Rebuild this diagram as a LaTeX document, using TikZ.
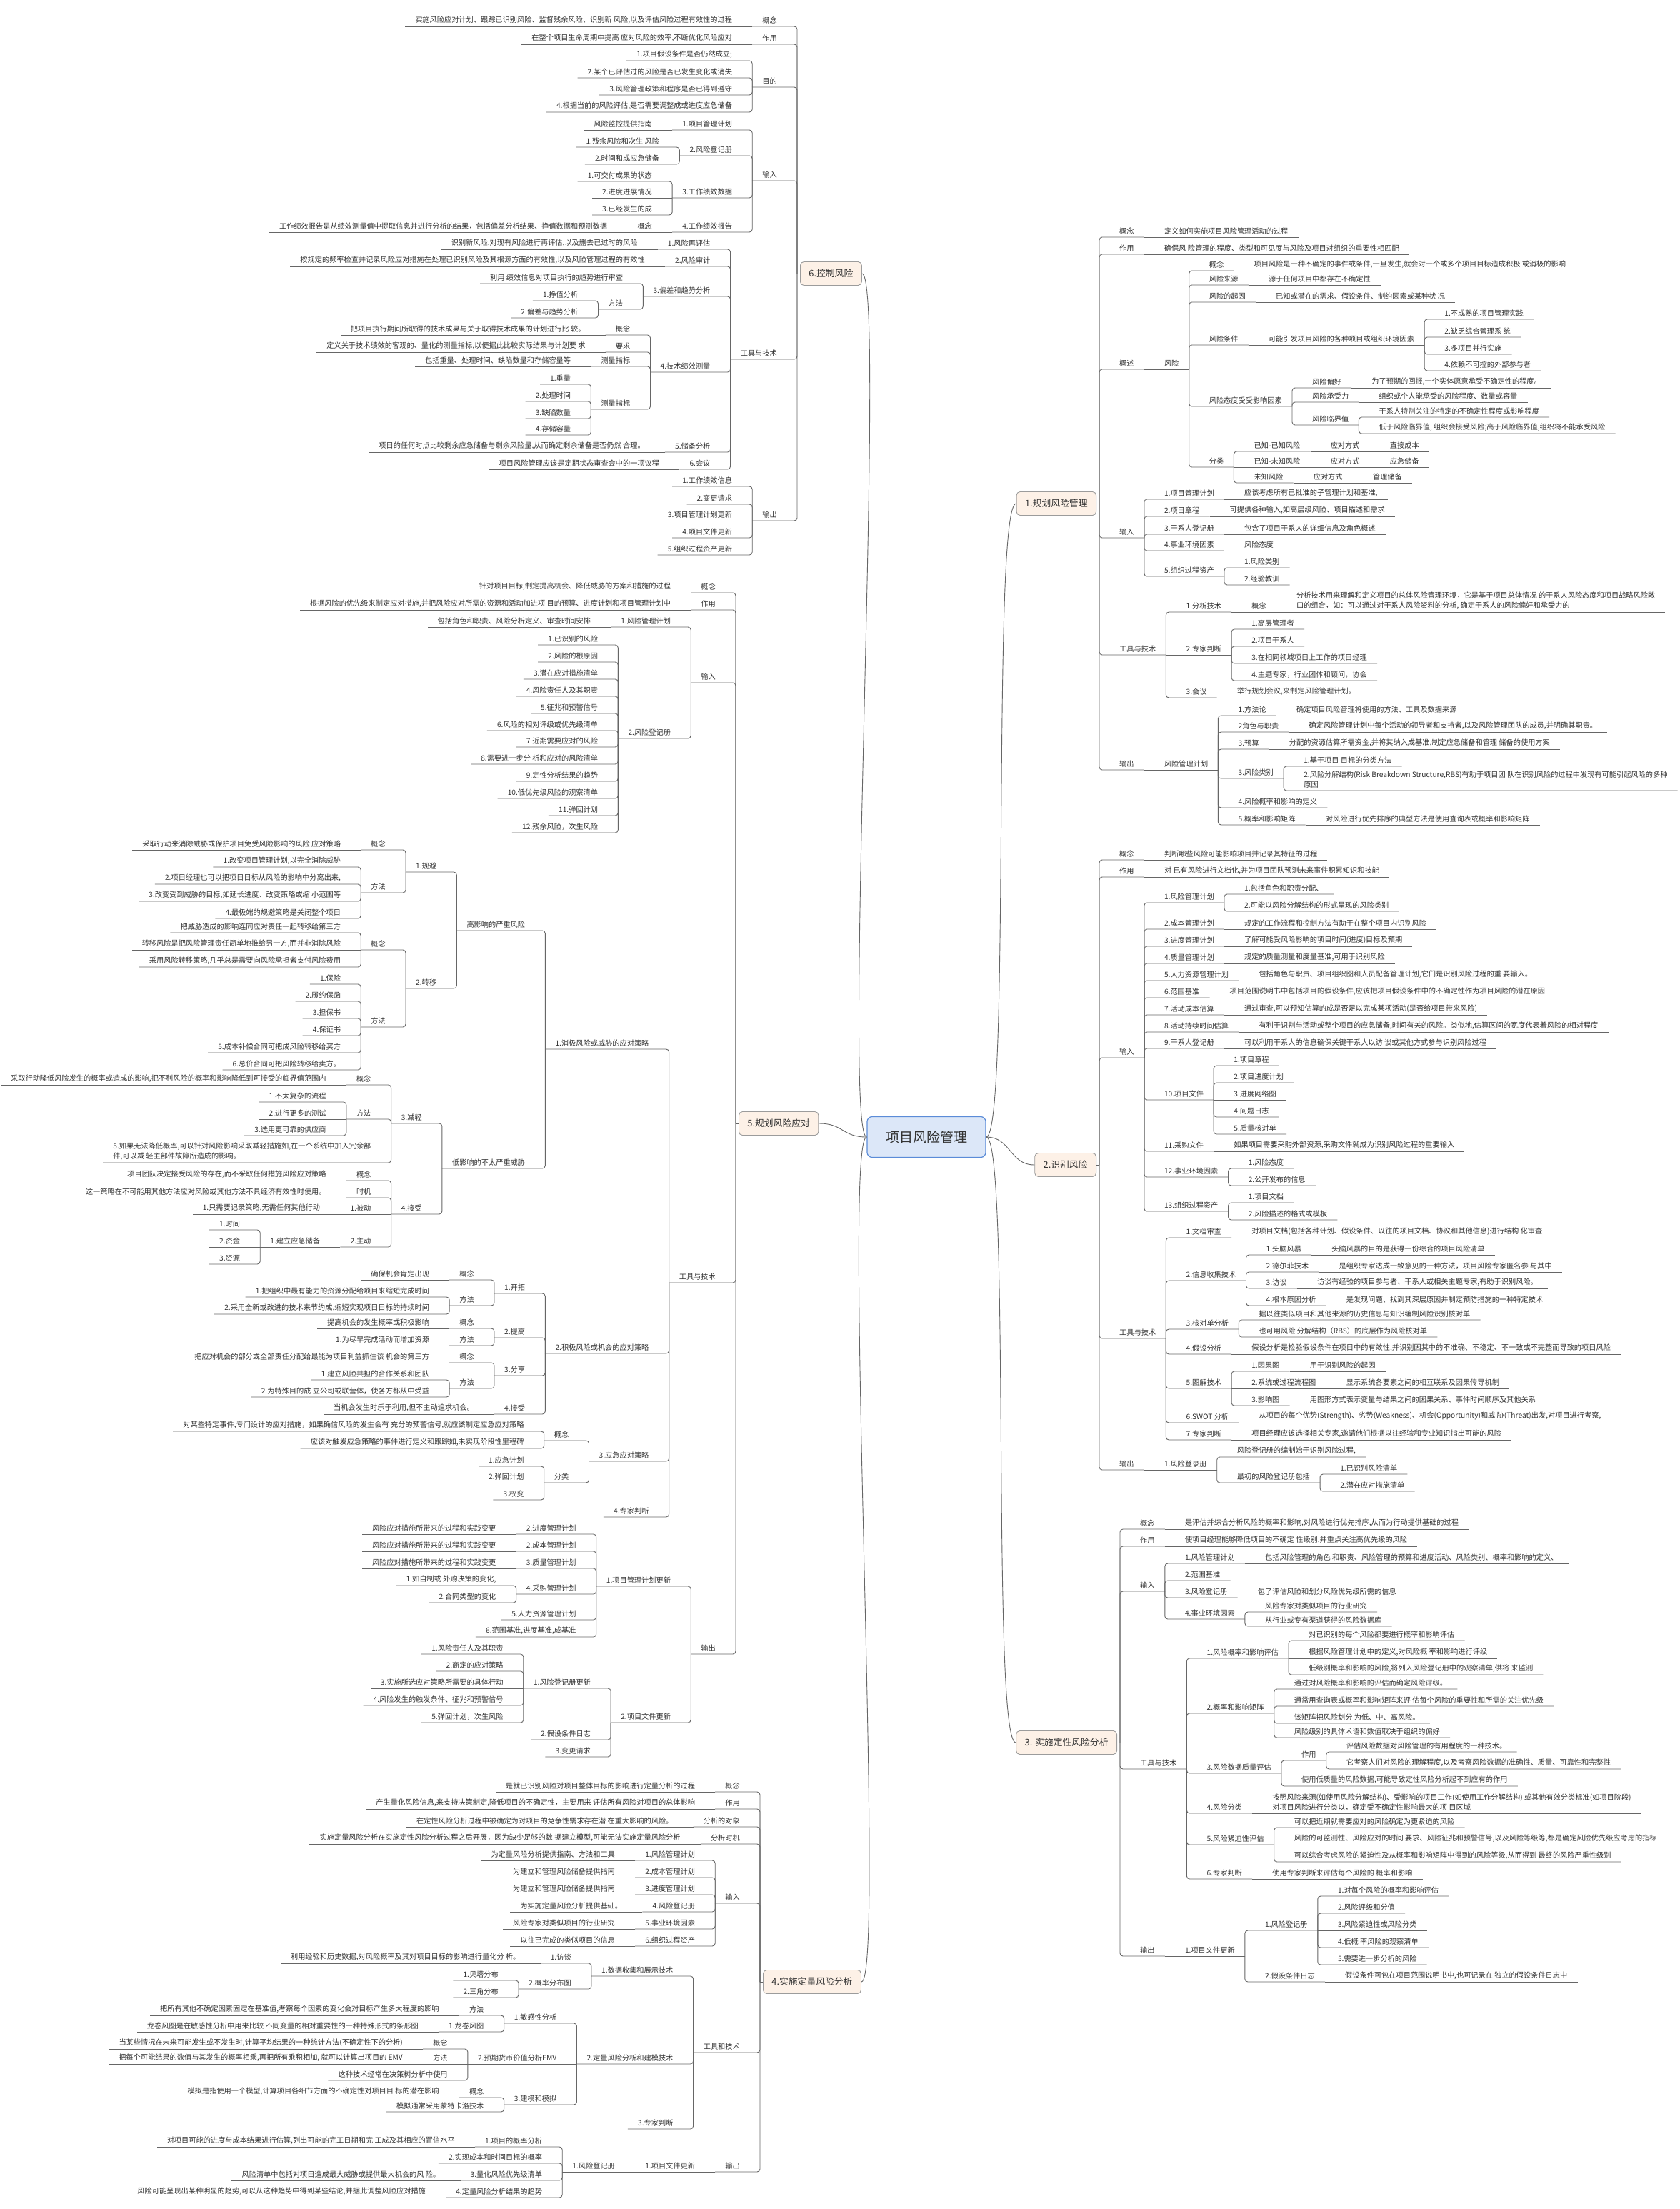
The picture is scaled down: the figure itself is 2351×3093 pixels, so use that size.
\documentclass[tikz,border=0pt]{standalone}
\usepackage{fontspec}
\setmainfont{Noto Sans CJK SC}
\usetikzlibrary{calc}
\definecolor{lnc}{HTML}{666666}
\definecolor{txt}{HTML}{333333}
\definecolor{boxfill}{HTML}{FDF1E7}
\definecolor{boxdraw}{HTML}{9C9C9C}
\definecolor{cfill}{HTML}{DCE7F8}
\definecolor{cdraw}{HTML}{5B8CD8}
\tikzset{
 ln/.style={draw=lnc, line width=0.9pt, rounded corners=4pt},
 rt/.style={anchor=south west, inner xsep=0pt, inner ysep=3.5pt, text=txt, font=\fontsize{10.2}{13.7}\selectfont, align=left},
 lt/.style={anchor=south east, inner xsep=0pt, inner ysep=3.5pt, text=txt, font=\fontsize{10.2}{13.7}\selectfont, align=left},
 mbox/.style={draw=boxdraw, fill=boxfill, rounded corners=5pt, line width=0.9pt, inner xsep=12pt, inner ysep=0pt, minimum height=33pt, font=\fontsize{12.8}{15}\selectfont, text=txt},
 cbox/.style={draw=cdraw, fill=cfill, rounded corners=7pt, line width=1.2pt, inner xsep=26pt, inner ysep=0pt, minimum height=57pt, font=\fontsize{19}{22}\selectfont, text=txt}
}
\newcommand\rchild[4]{%
  \node[rt] (#2) at ($(#1-e |- 0,#3)+(28,0)$) {#4};
  \coordinate (#2-e) at ($(#2.south east)+(14,0)$);
  \draw[ln] (#1-e) |- (#2-e);}
\newcommand\rstr[3]{%
  \node[rt] (#2) at ($(#1-e)+(28,0)$) {#3};
  \coordinate (#2-e) at ($(#2.south east)+(14,0)$);
  \draw[ln] (#1-e) -- (#2-e);}
\newcommand\lchild[4]{%
  \node[lt] (#2) at ($(#1-e |- 0,#3)+(-28,0)$) {#4};
  \coordinate (#2-e) at ($(#2.south west)+(-14,0)$);
  \draw[ln] (#1-e) |- (#2-e);}
\newcommand\lstr[3]{%
  \node[lt] (#2) at ($(#1-e)+(-28,0)$) {#3};
  \coordinate (#2-e) at ($(#2.south west)+(-14,0)$);
  \draw[ln] (#1-e) -- (#2-e);}
\begin{document}
\begin{tikzpicture}[x=1pt,y=-1pt]
\useasboundingbox (0,0) rectangle (2351,3093);
\fill[white] (0,0) rectangle (2351,3093);

% ---------- center and main boxes
\node[cbox] (root) at (1297,1592) {项目风险管理};
\node[mbox,anchor=east] (b1) at (1535,705) {1.规划风险管理};
\node[mbox,anchor=east] (b2) at (1535,1631) {2.识别风险};
\node[mbox,anchor=east] (b3) at (1564,2440) {3. 实施定性风险分析};
\node[mbox,anchor=west] (b6) at (1120,383) {6.控制风险};
\node[mbox,anchor=west] (b5) at (1034,1573) {5.规划风险应对};
\node[mbox,anchor=west] (b4) at (1068,2775) {4.实施定量风险分析};
\foreach \b in {b1,b2,b3}{\coordinate (\b-e) at ($(\b.east)+(4,0)$); \draw[ln] (\b.east) -- (\b-e);}
\foreach \b in {b4,b5,b6}{\coordinate (\b-e) at ($(\b.west)+(-4,0)$); \draw[ln] (\b.west) -- (\b-e);}
\draw[ln] (root.east) .. controls +(35,0) and +(-35,0) .. (b1.west);
\draw[ln] (root.east) .. controls +(35,0) and +(-35,0) .. (b2.west);
\draw[ln] (root.east) .. controls +(35,0) and +(-35,0) .. (b3.west);
\draw[ln] (root.west) .. controls +(-35,0) and +(35,0) .. (b6.east);
\draw[ln] (root.west) .. controls +(-35,0) and +(35,0) .. (b5.east);
\draw[ln] (root.west) .. controls +(-35,0) and +(35,0) .. (b4.east);

% ---------- 6 控制风险
\lchild{b6}{f1}{37}{概念}
\lstr{f1}{f1a}{实施风险应对计划、跟踪已识别风险、监督残余风险、识别新 风险,以及评估风险过程有效性的过程}
\lchild{b6}{f2}{62}{作用}
\lstr{f2}{f2a}{在整个项目生命周期中提高 应对风险的效率,不断优化风险应对}
\lchild{b6}{f3}{122}{目的}
\lchild{f3}{f3a}{85}{1.项目假设条件是否仍然成立;}
\lchild{f3}{f3b}{109}{2.某个已评估过的风险是否已发生变化或消失}
\lchild{f3}{f3c}{133}{3.风险管理政策和程序是否已得到遵守}
\lchild{f3}{f3d}{157}{4.根据当前的风险评估,是否需要调整成或进度应急储备}
\lchild{b6}{f4}{253}{输入}
\lchild{f4}{f4a}{182}{1.项目管理计划}
\lstr{f4a}{f4a1}{风险监控提供指南}
\lchild{f4}{f4b}{218}{2.风险登记册}
\lchild{f4b}{f4b1}{206}{1.残余风险和次生 风险}
\lchild{f4b}{f4b2}{230}{2.时间和成应急储备}
\lchild{f4}{f4c}{277}{3.工作绩效数据}
\lchild{f4c}{f4c1}{254}{1.可交付成果的状态}
\lstr{f4c}{f4c2}{2.进度进展情况}
\lchild{f4c}{f4c3}{301}{3.已经发生的成}
\lchild{f4}{f4d}{325}{4.工作绩效报告}
\lstr{f4d}{f4d1}{概念}
\lstr{f4d1}{f4d2}{工作绩效报告是从绩效测量值中提取信息并进行分析的结果，包括偏差分析结果、挣值数据和预测数据}
\lchild{b6}{f5}{503}{工具与技术}
\lchild{f5}{f5a}{349}{1.风险再评估}
\lstr{f5a}{f5a1}{识别新风险,对现有风险进行再评估,以及删去已过时的风险}
\lchild{f5}{f5b}{373}{2.风险审计}
\lstr{f5b}{f5b1}{按规定的频率检查并记录风险应对措施在处理已识别风险及其根源方面的有效性,以及风险管理过程的有效性}
\lchild{f5}{f5c}{415}{3.偏差和趋势分析}
\lchild{f5c}{f5c1}{397}{利用 绩效信息对项目执行的趋势进行审查}
\lchild{f5c}{f5c2}{433}{方法}
\lchild{f5c2}{f5c3}{421}{1.挣值分析}
\lchild{f5c2}{f5c4}{445}{2.偏差与趋势分析}
\lchild{f5}{f5d}{521}{4.技术绩效测量}
\lchild{f5d}{f5d1}{469}{概念}
\lstr{f5d1}{f5d1a}{把项目执行期间所取得的技术成果与关于取得技术成果的计划进行比 较。}
\lchild{f5d}{f5d2}{493}{要求}
\lstr{f5d2}{f5d2a}{定义关于技术绩效的客观的、量化的测量指标,以便据此比较实际结果与计划要 求}
\lchild{f5d}{f5d3}{513}{测量指标}
\lstr{f5d3}{f5d3a}{包括重量、处理时间、缺陷数量和存储容量等}
\lchild{f5d}{f5d4}{573}{测量指标}
\lchild{f5d4}{f5d41}{538}{1.重量}
\lchild{f5d4}{f5d42}{562}{2.处理时间}
\lchild{f5d4}{f5d43}{586}{3.缺陷数量}
\lchild{f5d4}{f5d44}{609}{4.存储容量}
\lchild{f5}{f5e}{633}{5.储备分析}
\lstr{f5e}{f5e1}{项目的任何时点比较剩余应急储备与剩余风险量,从而确定剩余储备是否仍然 合理。}
\lchild{f5}{f5f}{657}{6.会议}
\lstr{f5f}{f5f1}{项目风险管理应该是定期状态审查会中的一项议程}
\lchild{b6}{f6}{729}{输出}
\lchild{f6}{f6a}{681}{1.工作绩效信息}
\lchild{f6}{f6b}{706}{2.变更请求}
\lstr{f6}{f6c}{3.项目管理计划更新}
\lchild{f6}{f6d}{753}{4.项目文件更新}
\lchild{f6}{f6e}{777}{5.组织过程资产更新}

% ---------- 5 规划风险应对
\lchild{b5}{e1}{830}{概念}
\lstr{e1}{e1a}{针对项目目标,制定提高机会、降低威胁的方案和措施的过程}
\lchild{b5}{e2}{854}{作用}
\lstr{e2}{e2a}{根据风险的优先级来制定应对措施,并把风险应对所需的资源和活动加进项 目的预算、进度计划和项目管理计划中}
\lchild{b5}{e3}{956}{输入}
\lchild{e3}{e3a}{878}{1.风险管理计划}
\lstr{e3a}{e3a1}{包括角色和职责、风险分析定义、审查时间安排}
\lchild{e3}{e3b}{1034}{2.风险登记册}
\lchild{e3b}{e3b1}{903}{1.已识别的风险}
\lchild{e3b}{e3b2}{927}{2.风险的根原因}
\lchild{e3b}{e3b3}{951}{3.潜在应对措施清单}
\lchild{e3b}{e3b4}{975}{4.风险责任人及其职责}
\lchild{e3b}{e3b5}{999}{5.征兆和预警信号}
\lchild{e3b}{e3b6}{1023}{6.风险的相对评级或优先级清单}
\lchild{e3b}{e3b7}{1046}{7.近期需要应对的风险}
\lchild{e3b}{e3b8}{1070}{8.需要进一步分 析和应对的风险清单}
\lchild{e3b}{e3b9}{1094}{9.定性分析结果的趋势}
\lchild{e3b}{e3b10}{1118}{10.低优先级风险的观察清单}
\lchild{e3b}{e3b11}{1142}{11.弹回计划}
\lchild{e3b}{e3b12}{1166}{12.残余风险，次生风险}
\lchild{b5}{e4}{1796}{工具与技术}
\lchild{e4}{e4a}{1469}{1.消极风险或威胁的应对策略}
\lchild{e4a}{e4a1}{1303}{高影响的严重风险}
\lchild{e4a1}{gb}{1221}{1.规避}
\lchild{gb}{gb1}{1190}{概念}
\lstr{gb1}{gb1a}{采取行动来消除威胁或保护项目免受风险影响的风险 应对策略}
\lchild{gb}{gb2}{1250}{方法}
\lchild{gb2}{gb21}{1214}{1.改变项目管理计划,以完全消除威胁}
\lchild{gb2}{gb22}{1238}{2.项目经理也可以把项目目标从风险的影响中分离出来,}
\lchild{gb2}{gb23}{1262}{3.改变受到威胁的目标,如延长进度、改变策略或缩 小范围等}
\lchild{gb2}{gb24}{1286}{4.最极端的规避策略是关闭整个项目}
\lchild{e4a1}{zy}{1384}{2.转移}
\lchild{zy}{zy1}{1330}{概念}
\lchild{zy1}{zy11}{1306}{把威胁造成的影响连同应对责任一起转移给第三方}
\lstr{zy1}{zy12}{转移风险是把风险管理责任简单地推给另一方,而并非消除风险}
\lchild{zy1}{zy13}{1354}{采用风险转移策略,几乎总是需要向风险承担者支付风险费用}
\lchild{zy}{zy2}{1438}{方法}
\lchild{zy2}{zy21}{1378}{1.保险}
\lchild{zy2}{zy22}{1402}{2.履约保函}
\lchild{zy2}{zy23}{1426}{3.担保书}
\lchild{zy2}{zy24}{1450}{4.保证书}
\lchild{zy2}{zy25}{1474}{5.成本补偿合同可把成风险转移给买方}
\lchild{zy2}{zy26}{1498}{6.总价合同可把风险转移给卖方。}
\lchild{e4a}{e4a2}{1636}{低影响的不太严重威胁}
\lchild{e4a2}{jq}{1573}{3.减轻}
\lchild{jq}{jq1}{1519}{概念}
\lstr{jq1}{jq1a}{采取行动降低风险发生的概率或造成的影响,把不利风险的概率和影响降低到可接受的临界值范围内}
\lchild{jq}{jq2}{1567}{方法}
\lchild{jq2}{jq21}{1543}{1.不太复杂的流程}
\lstr{jq2}{jq22}{2.进行更多的测试}
\lchild{jq2}{jq23}{1590}{3.选用更可靠的供应商}
\lchild{jq}{jq3}{1628}{5.如果无法降低概率,可以针对风险影响采取减轻措施如,在一个系统中加入冗余部\\件,可以减 轻主部件故障所造成的影响。}
\lchild{e4a2}{js}{1700}{4.接受}
\lchild{js}{js1}{1653}{概念}
\lstr{js1}{js1a}{项目团队决定接受风险的存在,而不采取任何措施风险应对策略}
\lchild{js}{js2}{1677}{时机}
\lstr{js2}{js2a}{这一策略在不可能用其他方法应对风险或其他方法不具经济有效性时使用。}
\lstr{js}{js3}{1.被动}
\lstr{js3}{js3a}{1.只需要记录策略,无需任何其他行动}
\lchild{js}{js4}{1746}{2.主动}
\lstr{js4}{js4a}{1.建立应急储备}
\lchild{js4a}{js4a1}{1722}{1.时间}
\lstr{js4a}{js4a2}{2.资金}
\lchild{js4a}{js4a3}{1770}{3.资源}
\lchild{e4}{e4b}{1895}{2.积极风险或机会的应对策略}
\lchild{e4b}{kt}{1811}{1.开拓}
\lchild{kt}{kt1}{1792}{概念}
\lstr{kt1}{kt1a}{确保机会肯定出现}
\lchild{kt}{kt2}{1828}{方法}
\lchild{kt2}{kt21}{1816}{1.把组织中最有能力的资源分配给项目来缩短完成时间}
\lchild{kt2}{kt22}{1840}{2.采用全新或改进的技术来节约成,缩短实现项目目标的持续时间}
\lchild{e4b}{tg}{1873}{2.提高}
\lchild{tg}{tg1}{1860}{概念}
\lstr{tg1}{tg1a}{提高机会的发生概率或积极影响}
\lchild{tg}{tg2}{1884}{方法}
\lstr{tg2}{tg2a}{1.为尽早完成活动而增加资源}
\lchild{e4b}{fx}{1926}{3.分享}
\lchild{fx}{fx1}{1908}{概念}
\lstr{fx1}{fx1a}{把应对机会的部分或全部责任分配给最能为项目利益抓住该 机会的第三方}
\lchild{fx}{fx2}{1944}{方法}
\lchild{fx2}{fx21}{1932}{1.建立风险共担的合作关系和团队}
\lchild{fx2}{fx22}{1956}{2.为特殊目的成 立公司或联营体，使各方都从中受益}
\lchild{e4b}{jc}{1980}{4.接受}
\lstr{jc}{jc1}{当机会发生时乐于利用,但不主动追求机会。}
\lchild{e4}{e4c}{2046}{3.应急应对策略}
\lchild{e4c}{yj1}{2017}{概念}
\lchild{yj1}{yj11}{2004}{对某些特定事件,专门设计的应对措施，如果确信风险的发生会有 充分的预警信号,就应该制定应急应对策略}
\lchild{yj1}{yj12}{2028}{应该对触发应急策略的事件进行定义和跟踪如,未实现阶段性里程碑}
\lchild{e4c}{yj2}{2076}{分类}
\lchild{yj2}{yj21}{2053}{1.应急计划}
\lstr{yj2}{yj22}{2.弹回计划}
\lchild{yj2}{yj23}{2100}{3.权变}
\lchild{e4}{e4d}{2124}{4.专家判断}
\lchild{b5}{e5}{2316}{输出}
\lchild{e5}{e5a}{2221}{1.项目管理计划更新}
\lchild{e5a}{e5a1}{2148}{2.进度管理计划}
\lstr{e5a1}{e5a1a}{风险应对措施所带来的过程和实践变更}
\lchild{e5a}{e5a2}{2172}{2.成本管理计划}
\lstr{e5a2}{e5a2a}{风险应对措施所带来的过程和实践变更}
\lchild{e5a}{e5a3}{2196}{3.质量管理计划}
\lstr{e5a3}{e5a3a}{风险应对措施所带来的过程和实践变更}
\lchild{e5a}{e5a4}{2232}{4.采购管理计划}
\lchild{e5a4}{e5a41}{2220}{1.如自制或 外购决策的变化,}
\lchild{e5a4}{e5a42}{2244}{2.合同类型的变化}
\lchild{e5a}{e5a5}{2268}{5.人力资源管理计划}
\lchild{e5a}{e5a6}{2292}{6.范围基准,进度基准,成基准}
\lchild{e5}{e5b}{2412}{2.项目文件更新}
\lchild{e5b}{e5b1}{2364}{1.风险登记册更新}
\lchild{e5b1}{e5b11}{2316}{1.风险责任人及其职责}
\lchild{e5b1}{e5b12}{2340}{2.商定的应对策略}
\lstr{e5b1}{e5b13}{3.实施所选应对策略所需要的具体行动}
\lchild{e5b1}{e5b14}{2388}{4.风险发生的触发条件、征兆和预警信号}
\lchild{e5b1}{e5b15}{2412}{5.弹回计划，次生风险}
\lchild{e5b}{e5b2}{2436}{2.假设条件日志}
\lchild{e5b}{e5b3}{2460}{3.变更请求}

% ---------- 4 实施定量风险分析
\lchild{b4}{d1}{2509}{概念}
\lstr{d1}{d1a}{是就已识别风险对项目整体目标的影响进行定量分析的过程}
\lchild{b4}{d2}{2533}{作用}
\lstr{d2}{d2a}{产生量化风险信息,来支持决策制定,降低项目的不确定性，主要用来 评估所有风险对项目的总体影响}
\lchild{b4}{d3}{2558}{分析的对象}
\lstr{d3}{d3a}{在定性风险分析过程中被确定为对项目的竞争性需求存在潜 在重大影响的风险。}
\lchild{b4}{d4}{2582}{分析时机}
\lstr{d4}{d4a}{实施定量风险分析在实施定性风险分析过程之后开展，因为缺少足够的数 据建立模型,可能无法实施定量风险分析}
\lchild{b4}{d5}{2665}{输入}
\lchild{d5}{d51}{2605}{1.风险管理计划}
\lstr{d51}{d51a}{为定量风险分析提供指南、方法和工具}
\lchild{d5}{d52}{2629}{2.成本管理计划}
\lstr{d52}{d52a}{为建立和管理风险储备提供指南}
\lchild{d5}{d53}{2653}{3.进度管理计划}
\lstr{d53}{d53a}{为建立和管理风险储备提供指南}
\lchild{d5}{d54}{2677}{4.风险登记册}
\lstr{d54}{d54a}{为实施定量风险分析提供基础。}
\lchild{d5}{d55}{2701}{5.事业环境因素}
\lstr{d55}{d55a}{风险专家对类似项目的行业研究}
\lchild{d5}{d56}{2725}{6.组织过程资产}
\lstr{d56}{d56a}{以往已完成的类似项目的信息}
\lchild{b4}{d6}{2874}{工具和技术}
\lchild{d6}{d6a}{2767}{1.数据收集和展示技术}
\lchild{d6a}{d6a1}{2749}{1.访谈}
\lstr{d6a1}{d6a1a}{利用经验和历史数据,对风险概率及其对项目目标的影响进行量化分 析。}
\lchild{d6a}{d6a2}{2785}{2.概率分布图}
\lchild{d6a2}{d6a21}{2773}{1.贝塔分布}
\lchild{d6a2}{d6a22}{2797}{2.三角分布}
\lchild{d6}{d6b}{2890}{2.定量风险分析和建模技术}
\lchild{d6b}{mg}{2833}{1.敏感性分析}
\lchild{mg}{mg1}{2822}{方法}
\lstr{mg1}{mg1a}{把所有其他不确定因素固定在基准值,考察每个因素的变化会对目标产生多大程度的影响}
\lchild{mg}{mg2}{2845}{1.龙卷风图}
\lstr{mg2}{mg2a}{龙卷风图是在敏感性分析中用来比较 不同变量的相对重要性的一种特殊形式的条形图}
\lstr{d6b}{emv}{2.预期货币价值分析EMV}
\lchild{emv}{emv1}{2869}{概念}
\lstr{emv1}{emv1a}{当某些情况在未来可能发生或不发生时,计算平均结果的一种统计方法(不确定性下的分析)}
\lstr{emv}{emv2}{方法}
\lstr{emv2}{emv2a}{把每个可能结果的数值与其发生的概率相乘,再把所有乘积相加, 就可以计算出项目的 EMV}
\lchild{emv}{emv3}{2913}{这种技术经常在决策树分析中使用}
\lchild{d6b}{jm}{2947}{3.建模和模拟}
\lchild{jm}{jm1}{2937}{概念}
\lstr{jm1}{jm1a}{模拟是指使用一个模型,计算项目各细节方面的不确定性对项目目 标的潜在影响}
\lchild{jm}{jm2}{2957}{模拟通常采用蒙特卡洛技术}
\lchild{d6}{d6c}{2981}{3.专家判断}
\lchild{b4}{d7}{3041}{输出}
\lstr{d7}{d7a}{1.项目文件更新}
\lstr{d7a}{d7b}{1.风险登记册}
\lchild{d7b}{d7b1}{3006}{1.项目的概率分析}
\lstr{d7b1}{d7b1a}{对项目可能的进度与成本结果进行估算,列出可能的完工日期和完 工成及其相应的置信水平}
\lchild{d7b}{d7b2}{3029}{2.实现成本和时间目标的概率}
\lchild{d7b}{d7b3}{3053}{3.量化风险优先级清单}
\lstr{d7b3}{d7b3a}{风险清单中包括对项目造成最大威胁或提供最大机会的风 险。}
\lchild{d7b}{d7b4}{3077}{4.定量风险分析结果的趋势}
\lstr{d7b4}{d7b4a}{风险可能呈现出某种明显的趋势,可以从这种趋势中得到某些结论,并据此调整风险应对措施}

% ---------- 1 规划风险管理
\rchild{b1}{a1}{332}{概念}
\rstr{a1}{a1a}{定义如何实施项目风险管理活动的过程}
\rchild{b1}{a2}{356}{作用}
\rstr{a2}{a2a}{确保风 险管理的程度、类型和可见度与风险及项目对组织的重要性相匹配}
\rchild{b1}{a3}{517}{概述}
\rstr{a3}{a3r}{风险}
\rchild{a3r}{a31}{379}{概念}
\rstr{a31}{a31a}{项目风险是一种不确定的事件或条件,一旦发生,就会对一个或多个项目目标造成积极 或消极的影响}
\rchild{a3r}{a32}{399}{风险来源}
\rstr{a32}{a32a}{源于任何项目中都存在不确定性}
\rchild{a3r}{a33}{423}{风险的起因}
\rstr{a33}{a33a}{已知或潜在的需求、假设条件、制约因素或某种状 况}
\rchild{a3r}{a34}{483}{风险条件}
\rstr{a34}{a34a}{可能引发项目风险的各种项目或组织环境因素}
\rchild{a34a}{a34a1}{447}{1.不成熟的项目管理实践}
\rchild{a34a}{a34a2}{472}{2.缺乏综合管理系 统}
\rchild{a34a}{a34a3}{496}{3.多项目并行实施}
\rchild{a34a}{a34a4}{519}{4.依赖不可控的外部参与者}
\rchild{a3r}{a35}{569}{风险态度受受影响因素}
\rchild{a35}{a351}{543}{风险偏好}
\rstr{a351}{a351a}{为了预期的回报,一个实体愿意承受不确定性的程度。}
\rchild{a35}{a352}{563}{风险承受力}
\rstr{a352}{a352a}{组织或个人能承受的风险程度、数量或容量}
\rchild{a35}{a353}{595}{风险临界值}
\rchild{a353}{a3531}{584}{干系人特别关注的特定的不确定性程度或影响程度}
\rchild{a353}{a3532}{607}{低于风险临界值, 组织会接受风险;高于风险临界值,组织将不能承受风险}
\rchild{a3r}{a36}{654}{分类}
\rchild{a36}{a361}{632}{已知-已知风险}
\rstr{a361}{a361a}{应对方式}
\rstr{a361a}{a361b}{直接成本}
\rstr{a36}{a362}{已知-未知风险}
\rstr{a362}{a362a}{应对方式}
\rstr{a362a}{a362b}{应急储备}
\rchild{a36}{a363}{676}{未知风险}
\rstr{a363}{a363a}{应对方式}
\rstr{a363a}{a363b}{管理储备}
\rchild{b1}{a4}{753}{输入}
\rchild{a4}{a41}{699}{1.项目管理计划}
\rstr{a41}{a41a}{应该考虑所有已批准的子管理计划和基准,}
\rchild{a4}{a42}{723}{2.项目章程}
\rstr{a42}{a42a}{可提供各种输入,如高层级风险、项目描述和需求}
\rchild{a4}{a43}{748}{3.干系人登记册}
\rstr{a43}{a43a}{包含了项目干系人的详细信息及角色概述}
\rchild{a4}{a44}{771}{4.事业环境因素}
\rstr{a44}{a44a}{风险态度}
\rchild{a4}{a45}{807}{5.组织过程资产}
\rchild{a45}{a451}{795}{1.风险类别}
\rchild{a45}{a452}{819}{2.经验教训}
\rchild{b1}{a5}{917}{工具与技术}
\rchild{a5}{a51}{857}{1.分析技术}
\rstr{a51}{a51a}{概念}
\rstr{a51a}{a51b}{分析技术用来理解和定义项目的总体风险管理环境，它是基于项目总体情况 的干系人风险态度和项目战略风险敞\\口的组合，如：可以通过对干系人风险资料的分析, 确定干系人的风险偏好和承受力的}
\rstr{a5}{a52}{2.专家判断}
\rchild{a52}{a521}{881}{1.高层管理者}
\rchild{a52}{a522}{905}{2.项目干系人}
\rchild{a52}{a523}{929}{3.在相同领域项目上工作的项目经理}
\rchild{a52}{a524}{953}{4.主题专家，行业团体和顾问，协会}
\rchild{a5}{a53}{977}{3.会议}
\rstr{a53}{a53a}{举行规划会议,来制定风险管理计划。}
\rchild{b1}{a6}{1078}{输出}
\rstr{a6}{a6r}{风险管理计划}
\rchild{a6r}{a61}{1002}{1.方法论}
\rstr{a61}{a61a}{确定项目风险管理将使用的方法、工具及数据来源}
\rchild{a6r}{a62}{1025}{2角色与职责}
\rstr{a62}{a62a}{确定风险管理计划中每个活动的领导者和支持者,以及风险管理团队的成员,并明确其职责。}
\rchild{a6r}{a63}{1049}{3.预算}
\rstr{a63}{a63a}{分配的资源估算所需资金,并将其纳入成基准,制定应急储备和管理 储备的使用方案}
\rchild{a6r}{a64}{1090}{3.风险类别}
\rchild{a64}{a641}{1073}{1.基于项目 目标的分类方法}
\rchild{a64}{a642}{1107}{2.风险分解结构(Risk Breakdown Structure,RBS)有助于项目团 队在识别风险的过程中发现有可能引起风险的多种\\原因}
\rchild{a6r}{a65}{1131}{4.风险概率和影响的定义}
\rchild{a6r}{a66}{1155}{5.概率和影响矩阵}
\rstr{a66}{a66a}{对风险进行优先排序的典型方法是使用查询表或概率和影响矩阵}

% ---------- 2 识别风险
\rchild{b2}{c1}{1204}{概念}
\rstr{c1}{c1a}{判断哪些风险可能影响项目并记录其特征的过程}
\rchild{b2}{c2}{1228}{作用}
\rstr{c2}{c2a}{对 已有风险进行文档化,并为项目团队预测未来事件积累知识和技能}
\rchild{b2}{c3}{1481}{输入}
\rchild{c3}{c3a}{1264}{1.风险管理计划}
\rchild{c3a}{c3a1}{1252}{1.包括角色和职责分配、}
\rchild{c3a}{c3a2}{1276}{2.可能以风险分解结构的形式呈现的风险类别}
\rchild{c3}{c3b}{1301}{2.成本管理计划}
\rstr{c3b}{c3b1}{规定的工作流程和控制方法有助于在整个项目内识别风险}
\rchild{c3}{c3c}{1325}{3.进度管理计划}
\rstr{c3c}{c3c1}{了解可能受风险影响的项目时间(进度)目标及预期}
\rchild{c3}{c3d}{1349}{4.质量管理计划}
\rstr{c3d}{c3d1}{规定的质量测量和度量基准,可用于识别风险}
\rchild{c3}{c3e}{1373}{5.人力资源管理计划}
\rstr{c3e}{c3e1}{包括角色与职责、项目组织图和人员配备管理计划,它们是识别风险过程的重 要输入。}
\rchild{c3}{c3f}{1397}{6.范围基准}
\rstr{c3f}{c3f1}{项目范围说明书中包括项目的假设条件,应该把项目假设条件中的不确定性作为项目风险的潜在原因}
\rchild{c3}{c3g}{1421}{7.活动成本估算}
\rstr{c3g}{c3g1}{通过审查,可以预知估算的成是否足以完成某项活动(是否给项目带来风险)}
\rchild{c3}{c3h}{1445}{8.活动持续时间估算}
\rstr{c3h}{c3h1}{有利于识别与活动或整个项目的应急储备,时间有关的风险。类似地,估算区间的宽度代表着风险的相对程度}
\rchild{c3}{c3i}{1468}{9.干系人登记册}
\rstr{c3i}{c3i1}{可以利用干系人的信息确保关键干系人以访 谈或其他方式参与识别风险过程}
\rchild{c3}{c3j}{1540}{10.项目文件}
\rchild{c3j}{c3j1}{1492}{1.项目章程}
\rchild{c3j}{c3j2}{1516}{2.项目进度计划}
\rstr{c3j}{c3j3}{3.进度网络图}
\rchild{c3j}{c3j4}{1564}{4.问题日志}
\rchild{c3j}{c3j5}{1588}{5.质量核对单}
\rchild{c3}{c3k}{1612}{11.采购文件}
\rstr{c3k}{c3k1}{如果项目需要采购外部资源,采购文件就成为识别风险过程的重要输入}
\rchild{c3}{c3l}{1648}{12.事业环境因素}
\rchild{c3l}{c3l1}{1636}{1.风险态度}
\rchild{c3l}{c3l2}{1660}{2.公开发布的信息}
\rchild{c3}{c3m}{1696}{13.组织过程资产}
\rchild{c3m}{c3m1}{1684}{1.项目文档}
\rchild{c3m}{c3m2}{1708}{2.风险描述的格式或模板}
\rchild{b2}{c4}{1874}{工具与技术}
\rchild{c4}{c4a}{1733}{1.文档审查}
\rstr{c4a}{c4a1}{对项目文档(包括各种计划、假设条件、以往的项目文档、协议和其他信息)进行结构 化审查}
\rchild{c4}{c4b}{1793}{2.信息收集技术}
\rchild{c4b}{c4b1}{1757}{1.头脑风暴}
\rstr{c4b1}{c4b1a}{头脑风暴的目的是获得一份综合的项目风险清单}
\rchild{c4b}{c4b2}{1781}{2.德尔菲技术}
\rstr{c4b2}{c4b2a}{是组织专家达成一致意见的一种方法，项目风险专家匿名参 与其中}
\rchild{c4b}{c4b3}{1804}{3.访谈}
\rstr{c4b3}{c4b3a}{访谈有经验的项目参与者、干系人或相关主题专家,有助于识别风险。}
\rchild{c4b}{c4b4}{1828}{4.根本原因分析}
\rstr{c4b4}{c4b4a}{是发现问题、找到其深层原因并制定预防措施的一种特定技术}
\rchild{c4}{c4c}{1861}{3.核对单分析}
\rchild{c4c}{c4c1}{1848}{据以往类似项目和其他来源的历史信息与知识编制风险识别核对单}
\rchild{c4c}{c4c2}{1872}{也可用风险 分解结构（RBS）的底层作为风险核对单}
\rchild{c4}{c4d}{1896}{4.假设分析}
\rstr{c4d}{c4d1}{假设分析是检验假设条件在项目中的有效性,并识别因其中的不准确、不稳定、不一致或不完整而导致的项目风险}
\rchild{c4}{c4e}{1944}{5.图解技术}
\rchild{c4e}{c4e1}{1920}{1.因果图}
\rstr{c4e1}{c4e1a}{用于识别风险的起因}
\rstr{c4e}{c4e2}{2.系统或过程流程图}
\rstr{c4e2}{c4e2a}{显示系统各要素之间的相互联系及因果传导机制}
\rchild{c4e}{c4e3}{1968}{3.影响图}
\rstr{c4e3}{c4e3a}{用图形方式表示变量与结果之间的因果关系、事件时间顺序及其他关系}
\rchild{c4}{c4f}{1992}{6.SWOT 分析}
\rstr{c4f}{c4f1}{从项目的每个优势(Strength)、劣势(Weakness)、机会(Opportunity)和威 胁(Threat)出发,对项目进行考察,}
\rchild{c4}{c4g}{2016}{7.专家判断}
\rstr{c4g}{c4g1}{项目经理应该选择相关专家,邀请他们根据以往经验和专业知识指出可能的风险}
\rchild{b2}{c5}{2058}{输出}
\rstr{c5}{c5r}{1.风险登录册}
\rchild{c5r}{c5r1}{2040}{风险登记册的编制始于识别风险过程,}
\rchild{c5r}{c5r2}{2076}{最初的风险登记册包括}
\rchild{c5r2}{c5r21}{2064}{1.已识别风险清单}
\rchild{c5r2}{c5r22}{2088}{2.潜在应对措施清单}

% ---------- 3 实施定性风险分析
\rchild{b3}{g1}{2141}{概念}
\rstr{g1}{g1a}{是评估并综合分析风险的概率和影响,对风险进行优先排序,从而为行动提供基础的过程}
\rchild{b3}{g2}{2165}{作用}
\rstr{g2}{g2a}{使项目经理能够降低项目的不确定 性级别,并重点关注高优先级的风险}
\rchild{b3}{g3}{2228}{输入}
\rchild{g3}{g31}{2189}{1.风险管理计划}
\rstr{g31}{g31a}{包括风险管理的角色 和职责、风险管理的预算和进度活动、风险类别、概率和影响的定义、}
\rchild{g3}{g32}{2213}{2.范围基准}
\rchild{g3}{g33}{2237}{3.风险登记册}
\rstr{g33}{g33a}{包了评估风险和划分风险优先级所需的信息}
\rchild{g3}{g34}{2267}{4.事业环境因素}
\rchild{g34}{g341}{2257}{风险专家对类似项目的行业研究}
\rchild{g34}{g342}{2277}{从行业或专有渠道获得的风险数据库}
\rchild{b3}{g4}{2477}{工具与技术}
\rchild{g4}{g41}{2322}{1.风险概率和影响评估}
\rchild{g41}{g411}{2297}{对已识别的每个风险都要进行概率和影响评估}
\rstr{g41}{g412}{根据风险管理计划中的定义,对风险概 率和影响进行评级}
\rchild{g41}{g413}{2345}{低级别概率和影响的风险,将列入风险登记册中的观察清单,供将 来监测}
\rchild{g4}{g42}{2399}{2.概率和影响矩阵}
\rchild{g42}{g421}{2365}{通过对风险概率和影响的评估而确定风险评级。}
\rchild{g42}{g422}{2389}{通常用查询表或概率和影响矩阵来评 估每个风险的重要性和所需的关注优先级}
\rchild{g42}{g423}{2413}{该矩阵把风险划分 为低、中、高风险。}
\rchild{g42}{g424}{2433}{风险级别的具体术语和数值取决于组织的偏好}
\rchild{g4}{g43}{2483}{3.风险数据质量评估}
\rchild{g43}{g431}{2465}{作用}
\rchild{g431}{g4311}{2453}{评估风险数据对风险管理的有用程度的一种技术。}
\rchild{g431}{g4312}{2477}{它考察人们对风险的理解程度,以及考察风险数据的准确性、质量、可靠性和完整性}
\rchild{g43}{g432}{2501}{使用低质量的风险数据,可能导致定性风险分析起不到应有的作用}
\rchild{g4}{g44}{2539}{4.风险分类}
\rstr{g44}{g44a}{按照风险来源(如使用风险分解结构)、受影响的项目工作(如使用工作分解结构) 或其他有效分类标准(如项目阶段)\\对项目风险进行分类以，确定受不确定性影响最大的项 目区域}
\rchild{g4}{g45}{2583}{5.风险紧迫性评估}
\rchild{g45}{g451}{2559}{可以把近期就需要应对的风险确定为更紧迫的风险}
\rstr{g45}{g452}{风险的可监测性、风险应对的时间 要求、风险征兆和预警信号,以及风险等级等,都是确定风险优先级应考虑的指标}
\rchild{g45}{g453}{2607}{可以综合考虑风险的紧迫性及从概率和影响矩阵中得到的风险等级,从而得到 最终的风险严重性级别}
\rchild{g4}{g46}{2631}{6.专家判断}
\rstr{g46}{g46a}{使用专家判断来评估每个风险的 概率和影响}
\rchild{b3}{g5}{2739}{输出}
\rstr{g5}{g5a}{1.项目文件更新}
\rchild{g5a}{g5a1}{2703}{1.风险登记册}
\rchild{g5a1}{g5a11}{2655}{1.对每个风险的概率和影响评估}
\rchild{g5a1}{g5a12}{2679}{2.风险评级和分值}
\rstr{g5a1}{g5a13}{3.风险紧迫性或风险分类}
\rchild{g5a1}{g5a14}{2727}{4.低概 率风险的观察清单}
\rchild{g5a1}{g5a15}{2751}{5.需要进一步分析的风险}
\rchild{g5a}{g5a2}{2775}{2.假设条件日志}
\rstr{g5a2}{g5a2a}{假设条件可包在项目范围说明书中,也可记录在 独立的假设条件日志中}
\end{tikzpicture}
\end{document}
